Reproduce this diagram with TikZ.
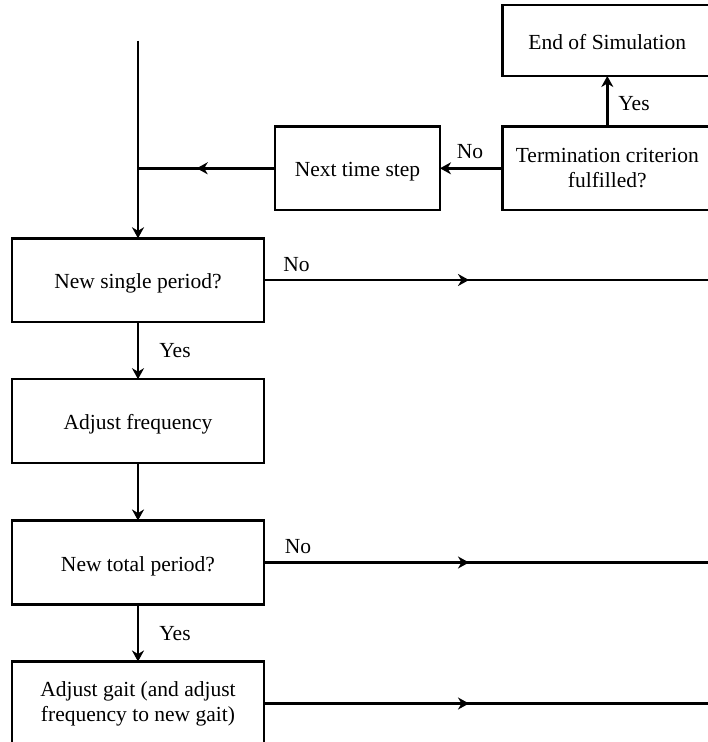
\documentclass[tikz,border=0pt]{standalone}
\usepackage{fontspec}
\setmainfont{Liberation Serif}
\usetikzlibrary{arrows.meta}
\begin{document}
\begin{tikzpicture}[x=1pt,y=-1pt,
  box/.style={draw, line width=2.4pt, rectangle, inner sep=0pt, outer sep=0pt,
    font=\fontsize{21.5}{25}\selectfont, align=center},
  oneline/.style={text height=21pt, text depth=4pt},
  lbl/.style={font=\fontsize{21.5}{25}\selectfont, anchor=base, inner sep=0pt},
  conn/.style={line width=2.4pt},
  tip/.style={-{Stealth[length=11pt,width=12pt,inset=3.5pt]}}
]
\useasboundingbox (0,0) rectangle (708,742);
\clip (0,0) rectangle (708,742);
% boxes
\node[box, oneline, minimum width=209.3pt, minimum height=71pt] (end) at (607.3,40.5) {End of Simulation};
\node[box, minimum width=209.3pt, minimum height=83.3pt] (term) at (607.3,168.3) {Termination criterion\\fulfilled?};
\node[box, oneline, minimum width=165pt, minimum height=83.3pt] (next) at (357.5,168.3) {Next time step};
\node[box, oneline, minimum width=252pt, minimum height=83.4pt] (nsp) at (138,280) {New single period?};
\node[box, oneline, minimum width=252pt, minimum height=84pt] (af) at (138,421.2) {Adjust frequency};
\node[box, oneline, minimum width=252pt, minimum height=84pt] (ntp) at (138,562.5) {New total period?};
\node[box, minimum width=252pt, minimum height=84pt] (ag) at (138,703.5) {Adjust gait (and adjust\\frequency to new gait)};
% coordinates
\coordinate (top) at (138,40.7);
\coordinate (m0) at (196.7,168.3);
\coordinate (m1) at (469,280);
\coordinate (r1) at (715,280);
\coordinate (m2) at (469,562.5);
\coordinate (r2) at (715,562.5);
\coordinate (m3) at (469,703.5);
\coordinate (r3) at (715,703.5);
% connectors
\draw[conn, tip] (top) -- (nsp.north);
\draw[conn] (next.west) -- (next.west -| nsp.north);
\draw[conn, tip] (next.west) -- (m0);
\draw[conn, tip] (term.west) -- (next.east);
\draw[conn, tip] (term.north) -- (end.south);
\draw[conn, tip] (nsp.south) -- (af.north);
\draw[conn, tip] (af.south) -- (ntp.north);
\draw[conn, tip] (ntp.south) -- (ag.north);
\draw[conn] (nsp.east) -- (r1);
\draw[conn, tip] (nsp.east) -- (m1);
\draw[conn] (ntp.east) -- (r2);
\draw[conn, tip] (ntp.east) -- (m2);
\draw[conn] (ag.east) -- (r3);
\draw[conn, tip] (ag.east) -- (m3);
% labels
\node[lbl] (no0) at (470,158.3) {No};
\node[lbl] (yes0) at (634,110) {Yes};
\node[lbl] (no1) at (296.5,271.7) {No};
\node[lbl] (yes1) at (175,357.7) {Yes};
\node[lbl] (no2) at (298,553.3) {No};
\node[lbl] (yes2) at (175,640.7) {Yes};
\end{tikzpicture}
\end{document}
